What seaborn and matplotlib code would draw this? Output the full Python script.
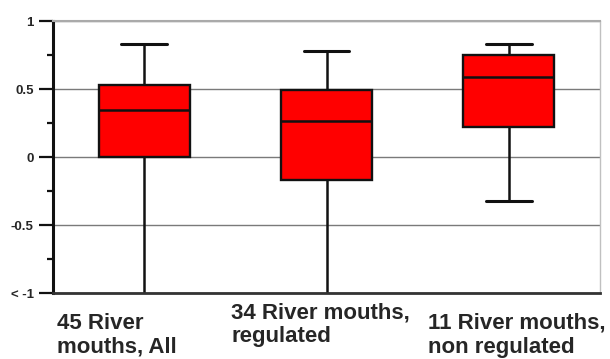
import numpy as np
import pandas as pd
import seaborn as sns
import matplotlib
matplotlib.use("Agg")
import matplotlib.pyplot as plt
from matplotlib.transforms import ScaledTranslation

# Five-number summaries (min, Q1, median, Q3, max) per group
groups = ["45 River\nmouths, All", "34 River mouths,\nregulated", "11 River mouths,\nnon regulated"]
all_mouths = [-1.25, 0.00, 0.345, 0.53, 0.833]
regulated = [-1.25, -0.17, 0.267, 0.49, 0.78]
non_regulated = [-0.324, 0.22, 0.59, 0.748, 0.833]

y_ticks = [-1, -0.5, 0, 0.5, 1]
y_tick_labels = ["< -1", "-0.5", "0", "0.5", "1"]

df = pd.DataFrame({
    "group": np.repeat(groups, 5),
    "value": all_mouths + regulated + non_regulated,
})

sns.set_theme(style="white")
plt.rcParams["font.family"] = ["Liberation Sans", "DejaVu Sans"]

W, H, DPI = 610, 359, 100
fig = plt.figure(figsize=(W / DPI, H / DPI), dpi=DPI)
ax = fig.add_axes([53 / W, 1 - 293 / H, 547 / W, 272 / H])

ax.yaxis.grid(True, color="#7a7a7a", linewidth=1.0, zorder=0)
ax.set_axisbelow(True)

sns.boxplot(
    data=df, x="group", y="value", ax=ax,
    whis=np.inf, width=0.5, color="#ff0000", saturation=1,
    linecolor="#111111", linewidth=1.7,
    whiskerprops=dict(linewidth=1.8), capprops=dict(linewidth=2.2),
    medianprops=dict(linewidth=1.8),
)

ax.set_xlim(-0.5, 2.5)
ax.set_ylim(-1, 1)
ax.set_xlabel("")
ax.set_ylabel("")

# y axis: bold small labels, long major ticks and short minor ticks
ax.set_yticks(y_ticks)
ax.set_yticklabels(y_tick_labels, fontsize=9.5, fontweight="bold")
ax.set_yticks([-0.75, -0.25, 0.25, 0.75], minor=True)
ax.tick_params(axis="y", which="major", direction="out", length=10, width=1.6,
               color="#111111", left=True, pad=4)
ax.tick_params(axis="y", which="minor", direction="out", length=4.5, width=1.6,
               color="#111111", left=True)

# spines
ax.spines["left"].set_color("#111111")
ax.spines["left"].set_linewidth(2.2)
ax.spines["bottom"].set_color("#333333")
ax.spines["bottom"].set_linewidth(2.0)
ax.spines["top"].set_color("#aaaaaa")
ax.spines["top"].set_linewidth(1.5)
ax.spines["right"].set_color("#c0c0c0")
ax.spines["right"].set_linewidth(1.0)

# x tick labels: left aligned and shifted individually
ax.tick_params(axis="x", length=0, pad=0)
offsets_px = [(-87, -20), (-95, -9), (-81, -20)]
for lab, (dx, dy) in zip(ax.get_xticklabels(), offsets_px):
    lab.set_fontsize(16)
    lab.set_fontweight("bold")
    lab.set_ha("left")
    lab.set_va("top")
    lab.set_linespacing(1.17)
    lab.set_transform(lab.get_transform() + ScaledTranslation(dx / DPI, dy / DPI, fig.dpi_scale_trans))

fig.savefig("out.png", dpi=DPI)
